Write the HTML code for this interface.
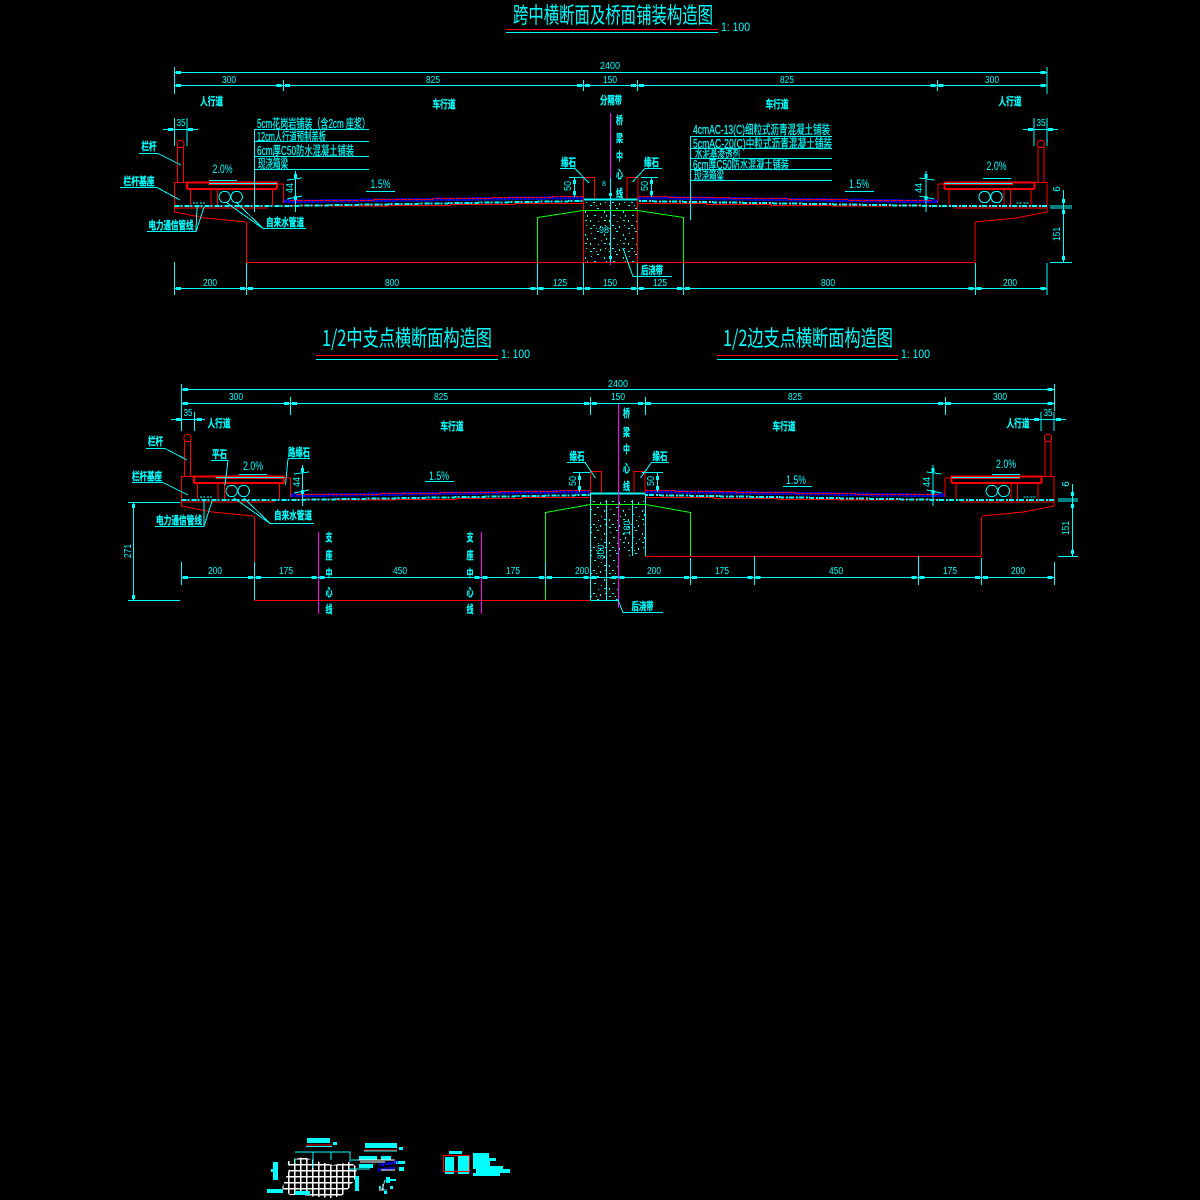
<!DOCTYPE html>
<html><head><meta charset="utf-8">
<style>
html,body{margin:0;padding:0;background:#000}
svg{display:block;shape-rendering:crispEdges}
text{fill:#0ff;font-family:"Liberation Sans","Noto Sans CJK SC",sans-serif}
.c{font-family:"Noto Sans CJK SC","Liberation Sans",sans-serif;font-size:11px;font-weight:700;text-anchor:middle;stroke:#0ff;stroke-width:.25}
.n{font-size:10px;text-anchor:middle}
.l{font-family:"Liberation Sans","Noto Sans CJK SC",sans-serif;font-size:12.5px;stroke:#0ff;stroke-width:.2}
.p1{font-size:12px}
.t{font-family:"Noto Sans CJK SC","Liberation Sans",sans-serif;font-size:22px}
.d{fill:none;stroke:#0ff;stroke-width:1;marker-mid:url(#m)}
.cy{fill:none;stroke:#0ff;stroke-width:1}
.r{fill:none;stroke:#f00;stroke-width:1}
.r2{fill:none;stroke:#f00;stroke-width:2}
.g{fill:none;stroke:#0f0;stroke-width:1}
.p{fill:none;stroke:#f0f;stroke-width:1}
</style></head><body>
<svg width="1200" height="1200" viewBox="0 0 1200 1200" xmlns="http://www.w3.org/2000/svg">
<defs>
<marker id="m" markerUnits="userSpaceOnUse" markerWidth="5" markerHeight="3" refX="2.5" refY="1.5"><rect width="5" height="3" fill="#0ff"/></marker>
<pattern id="st" width="19" height="23" patternUnits="userSpaceOnUse">
<g fill="#0ff"><rect x="2" y="3" width="1" height="1"/><rect x="8" y="1" width="2" height="1"/><rect x="15" y="4" width="1" height="2"/><rect x="5" y="8" width="2" height="1"/><rect x="12" y="10" width="1" height="1"/><rect x="17" y="8" width="1" height="2"/><rect x="1" y="13" width="1" height="2"/><rect x="9" y="14" width="1" height="1"/><rect x="15" y="13" width="2" height="1"/><rect x="4" y="18" width="2" height="1"/><rect x="11" y="19" width="1" height="2"/><rect x="16" y="18" width="1" height="1"/><rect x="7" y="21" width="1" height="1"/><rect x="1" y="21" width="2" height="1"/></g>
</pattern>
<pattern id="gr" width="6" height="6" patternUnits="userSpaceOnUse"><rect width="6" height="6" fill="#000"/><path d="M0 .75H6M.75 0V6" stroke="#fff" stroke-width="1.5"/></pattern>
<g id="half">
<!-- rail -->
<path class="r" d="M177.5 182V147M183.5 182V147"/><circle class="r" cx="180.5" cy="144" r="3.7"/>
<!-- sidewalk -->
<path class="r" d="M174.5 207V182.5H186.5M208 184.5H277.5"/>
<path class="r2" d="M186 182.5H278M187 189H277M187 182V189M277 183V189"/>
<path class="r" d="M190.5 205V189H211V205M217.5 205V189.5H272.5V205"/>
<circle class="cy" cx="224.7" cy="197" r="5.7"/><circle class="cy" cx="236.7" cy="197" r="5.7"/>
<path class="r" d="M277.5 184H283.5V203"/>
<path class="cy" d="M209 183.5H277"/>
<path class="cy" d="M193 203H199M200 203H206" stroke-width="2" stroke-dasharray="2 1"/>
<path class="r" d="M174.5 207V212L205 218L246.5 222"/>
<path class="r" d="M174.5 208H268"/>
<!-- deck -->
<path d="M284 201.5L583 197.5" fill="none" stroke="#00f" stroke-width="3.5" stroke-dasharray="3 1"/>
<path class="r" stroke-dasharray="6 1" d="M290 200.5H373V199.5H433V198.5H492V197.5H553V196.5H583"/>
<path class="r" d="M284 205.5H330V206H390M390 205.5H450V204.5H515V203.5H583"/>
<path d="M174.5 206H284L583 201" fill="none" stroke="#0ff" stroke-width="2" stroke-dasharray="5 1 2 2"/>
<path d="M583 199.5H611" fill="none" stroke="#0ff" stroke-width="2"/>
<!-- 44 dim -->
<path class="cy" d="M295.5 171V212M287 180L302 178M287 199L302 196"/>
<rect x="294" y="174" width="3" height="4" fill="#0ff"/><rect x="294" y="196" width="3" height="4" fill="#0ff"/>
<!-- median curb -->
<path class="r" d="M583.5 199V177.5H594.5V199"/>
</g>
</defs>
<rect width="1200" height="1200" fill="#000"/>

<!-- ===== SECTION 1 ===== -->
<text class="t" x="513" y="23" textLength="200" lengthAdjust="spacingAndGlyphs">跨中横断面及桥面铺装构造图</text>
<path class="r" d="M506 29.5H718"/><path class="cy" d="M506 32.5H718"/>
<text class="p1" x="721" y="31" textLength="29" lengthAdjust="spacingAndGlyphs">1: 100</text>

<polyline class="d" points="174.5,72.5 178.5,72.5 1043,72.5 1047,72.5"/>
<polyline class="d" points="174.5,85.5 178.5,85.5 279,85.5 287.5,85.5 579.5,85.5 587.5,85.5 633.5,85.5 641.5,85.5 933,85.5 941,85.5 1043,85.5 1047,85.5"/>
<path class="cy" d="M174.5 67V94M283.5 80V91M583.5 80V91M637.5 80V91M937.5 80V91M1047 67V94"/>
<text class="n" x="610" y="69" textLength="20" lengthAdjust="spacingAndGlyphs">2400</text>
<text class="n" x="229" y="83" textLength="14" lengthAdjust="spacingAndGlyphs">300</text>
<text class="n" x="433" y="83" textLength="14" lengthAdjust="spacingAndGlyphs">825</text>
<text class="n" x="610" y="83" textLength="14" lengthAdjust="spacingAndGlyphs">150</text>
<text class="n" x="787" y="83" textLength="14" lengthAdjust="spacingAndGlyphs">825</text>
<text class="n" x="992" y="83" textLength="14" lengthAdjust="spacingAndGlyphs">300</text>
<text class="c" x="211.5" y="105" textLength="23" lengthAdjust="spacingAndGlyphs">人行道</text><text class="c" x="444" y="108" textLength="23" lengthAdjust="spacingAndGlyphs">车行道</text><text class="c" x="611" y="104" textLength="22" lengthAdjust="spacingAndGlyphs">分隔带</text><text class="c" x="777" y="108" textLength="23" lengthAdjust="spacingAndGlyphs">车行道</text><text class="c" x="1010" y="105" textLength="23" lengthAdjust="spacingAndGlyphs">人行道</text>

<!-- stipple -->
<rect x="584" y="200" width="53" height="62" fill="url(#st)"/>
<use href="#half"/>
<use href="#half" transform="translate(1221.3,0) scale(-1,1)"/>
<path class="r" d="M246.5 222V262.5H975V222"/>
<path class="r" d="M583.5 199V262M637.5 199V262"/>
<path class="g" d="M537.5 262V217.5L583 210.5H637.5L683.5 217.5V262"/>
<path class="p" d="M610.5 113V265"/>
<path class="cy" d="M610.5 178V262"/>
<rect x="609" y="193" width="3" height="3" fill="#0ff"/><rect x="609" y="256" width="3" height="3" fill="#0ff"/>
<g>
<text class="c" x="619.5" y="124" textLength="7" lengthAdjust="spacingAndGlyphs">桥</text><text class="c" x="619.5" y="142" textLength="7" lengthAdjust="spacingAndGlyphs">梁</text><text class="c" x="619.5" y="160" textLength="7" lengthAdjust="spacingAndGlyphs">中</text><text class="c" x="619.5" y="178" textLength="7" lengthAdjust="spacingAndGlyphs">心</text><text class="c" x="619.5" y="197" textLength="7" lengthAdjust="spacingAndGlyphs">线</text>
</g>
<text class="n" x="604" y="186" style="font-size:7px">8</text>
<text class="n" x="604" y="233" style="font-size:9px">98</text>
<!-- curb dims -->
<path class="cy" d="M569 177.5H583M574.5 178V197M641 177.5H658M651.5 178V197"/>
<rect x="573" y="180" width="3" height="4" fill="#0ff"/><rect x="573" y="191" width="3" height="4" fill="#0ff"/>
<rect x="650" y="180" width="3" height="4" fill="#0ff"/><rect x="650" y="191" width="3" height="4" fill="#0ff"/>
<text class="n" transform="translate(571,186) rotate(-90)" textLength="10" lengthAdjust="spacingAndGlyphs">50</text>
<text class="n" transform="translate(648,186) rotate(-90)" textLength="10" lengthAdjust="spacingAndGlyphs">50</text>
<text class="c" x="568.5" y="166" textLength="15" lengthAdjust="spacingAndGlyphs">缘石</text><text class="c" x="651.5" y="166" textLength="15" lengthAdjust="spacingAndGlyphs">缘石</text>
<path class="cy" d="M560 168.5H575L589 183M662 168.5H645L632.5 182"/>

<!-- left labels -->
<text class="c" x="149" y="150" textLength="15" lengthAdjust="spacingAndGlyphs">栏杆</text><path class="cy" d="M139 153.5H158L181 165"/>
<text class="c" x="139" y="185" textLength="31" lengthAdjust="spacingAndGlyphs">栏杆基座</text><path class="cy" d="M120 187.5H157L180 200"/>
<text class="c" x="171" y="229" textLength="45" lengthAdjust="spacingAndGlyphs">电力通信管线</text><path class="cy" d="M147 231.5H196L204 207M196 231.5L197 207"/>
<text class="c" x="285" y="226" textLength="38" lengthAdjust="spacingAndGlyphs">自来水管道</text><path class="cy" d="M263 228.5H306M263 228.5L237 203M263 228.5L227 203"/>
<!-- 35 dims -->
<path class="cy" d="M163 129.5H198M174.5 118V146M187 118V146"/><rect x="168" y="128" width="5" height="3" fill="#0ff"/><rect x="188" y="128" width="5" height="3" fill="#0ff"/>
<text class="n" x="181" y="126" textLength="9" lengthAdjust="spacingAndGlyphs">35</text>
<path class="cy" d="M1023 129.5H1058M1034 118V146M1047 118V146"/><rect x="1028" y="128" width="5" height="3" fill="#0ff"/><rect x="1048" y="128" width="5" height="3" fill="#0ff"/>
<text class="n" x="1041" y="126" textLength="9" lengthAdjust="spacingAndGlyphs">35</text>
<!-- slope -->
<text class="p1" x="212.5" y="173" textLength="20" lengthAdjust="spacingAndGlyphs">2.0%</text><path class="cy" d="M209 180.5H237"/>
<text class="p1" x="370.5" y="188" textLength="20" lengthAdjust="spacingAndGlyphs">1.5%</text><path class="cy" d="M366 191.5H395"/>
<text class="p1" x="849" y="188" textLength="20" lengthAdjust="spacingAndGlyphs">1.5%</text><path class="cy" d="M845 191.5H874"/>
<text class="p1" x="986.5" y="170" textLength="20" lengthAdjust="spacingAndGlyphs">2.0%</text><path class="cy" d="M983 178.5H1011"/>
<text class="n" transform="translate(293,188) rotate(-90)" textLength="10" lengthAdjust="spacingAndGlyphs">44</text>
<text class="n" transform="translate(922,188) rotate(-90)" textLength="10" lengthAdjust="spacingAndGlyphs">44</text>
<!-- layer callouts -->
<path class="cy" d="M254.5 129.5H369M254.5 141.5H369M254.5 156.5H369M254.5 169.5H369M254.5 129.5V212"/>
<text class="l" x="257" y="128" textLength="113" lengthAdjust="spacingAndGlyphs">5cm花岗岩铺装（含2cm 座浆）</text>
<text class="l" x="257" y="141" textLength="69" lengthAdjust="spacingAndGlyphs">12cm人行道预制盖板</text>
<text class="l" x="257" y="155" textLength="97" lengthAdjust="spacingAndGlyphs">6cm厚C50防水混凝土铺装</text>
<text class="l" x="258" y="168" textLength="30" lengthAdjust="spacingAndGlyphs">现浇箱梁</text>
<path class="cy" d="M690.5 136.5H832M690.5 148.5H832M690.5 158.5H832M690.5 169.5H832M690.5 180.5H832M690.5 136.5V220"/>
<text class="l" x="693" y="134" textLength="137" lengthAdjust="spacingAndGlyphs">4cmAC-13(C)细粒式沥青混凝土铺装</text>
<text class="l" x="693" y="148" textLength="139" lengthAdjust="spacingAndGlyphs">5cmAC-20(C)中粒式沥青混凝土铺装</text>
<text class="l" x="695" y="158" textLength="45" lengthAdjust="spacingAndGlyphs">水泥基渗透剂</text>
<text class="l" x="693" y="169" textLength="96" lengthAdjust="spacingAndGlyphs">6cm厚C50防水混凝土铺装</text>
<text class="l" x="694" y="180" textLength="30" lengthAdjust="spacingAndGlyphs">现浇箱梁</text>
<!-- bottom dims -->
<polyline class="d" points="174.5,288.5 178.5,288.5 242.5,288.5 250.5,288.5 533,288.5 541,288.5 579.5,288.5 587.5,288.5 633.5,288.5 641.5,288.5 679.5,288.5 687.5,288.5 971,288.5 979,288.5 1043,288.5 1047,288.5"/>
<path class="cy" d="M174.5 262V295M246.5 263V295M537.5 263V295M583.5 263V295M637.5 263V295M683.5 263V295M975.5 263V295M1047 263V295"/>
<text class="n" x="210" y="286" textLength="14" lengthAdjust="spacingAndGlyphs">200</text>
<text class="n" x="392" y="286" textLength="14" lengthAdjust="spacingAndGlyphs">800</text>
<text class="n" x="560" y="286" textLength="14" lengthAdjust="spacingAndGlyphs">125</text>
<text class="n" x="610" y="286" textLength="14" lengthAdjust="spacingAndGlyphs">150</text>
<text class="n" x="660" y="286" textLength="14" lengthAdjust="spacingAndGlyphs">125</text>
<text class="n" x="828" y="286" textLength="14" lengthAdjust="spacingAndGlyphs">800</text>
<text class="n" x="1010" y="286" textLength="14" lengthAdjust="spacingAndGlyphs">200</text>
<text class="c" x="652" y="274" textLength="22" lengthAdjust="spacingAndGlyphs">后浇带</text>
<path class="cy" d="M623 248L633 276.5H672"/>
<!-- right dim -->
<path class="cy" d="M1063.5 190V262M1050 206H1072M1050 208H1072M1050 262.5H1072"/>
<rect x="1062" y="199" width="3" height="4" fill="#0ff"/><rect x="1062" y="210" width="3" height="4" fill="#0ff"/><rect x="1062" y="256" width="3" height="4" fill="#0ff"/>
<text class="n" transform="translate(1060,189) rotate(-90)">6</text>
<text class="n" transform="translate(1060,234) rotate(-90)" textLength="14" lengthAdjust="spacingAndGlyphs">151</text>

<!-- ===== SECTION 2 ===== -->
<text class="t" x="322" y="346" textLength="170" lengthAdjust="spacingAndGlyphs">1/2中支点横断面构造图</text>
<path class="r" d="M316 355.5H498"/><path class="cy" d="M316 359.5H498"/>
<text class="p1" x="501" y="358" textLength="29" lengthAdjust="spacingAndGlyphs">1: 100</text>
<text class="t" x="723" y="346" textLength="170" lengthAdjust="spacingAndGlyphs">1/2边支点横断面构造图</text>
<path class="r" d="M717 355.5H898"/><path class="cy" d="M717 359.5H898"/>
<text class="p1" x="901" y="358" textLength="29" lengthAdjust="spacingAndGlyphs">1: 100</text>

<polyline class="d" points="181.5,389.5 185.5,389.5 1050,389.5 1054,389.5"/>
<polyline class="d" points="181.5,403.5 185.5,403.5 286.5,403.5 294.5,403.5 586.5,403.5 594.5,403.5 640.5,403.5 648.5,403.5 940.5,403.5 948.5,403.5 1050,403.5 1054,403.5"/>
<path class="cy" d="M181.5 384V430M290.5 397V415M590.5 397V415M645.5 397V415M945.5 397V415M1054.5 384V411"/>
<text class="n" x="618" y="387" textLength="20" lengthAdjust="spacingAndGlyphs">2400</text>
<text class="n" x="236" y="400" textLength="14" lengthAdjust="spacingAndGlyphs">300</text>
<text class="n" x="441" y="400" textLength="14" lengthAdjust="spacingAndGlyphs">825</text>
<text class="n" x="618" y="400" textLength="14" lengthAdjust="spacingAndGlyphs">150</text>
<text class="n" x="795" y="400" textLength="14" lengthAdjust="spacingAndGlyphs">825</text>
<text class="n" x="1000" y="400" textLength="14" lengthAdjust="spacingAndGlyphs">300</text>
<text class="c" x="219" y="427" textLength="23" lengthAdjust="spacingAndGlyphs">人行道</text><text class="c" x="452" y="430" textLength="23" lengthAdjust="spacingAndGlyphs">车行道</text><text class="c" x="784" y="430" textLength="23" lengthAdjust="spacingAndGlyphs">车行道</text><text class="c" x="1018" y="427" textLength="23" lengthAdjust="spacingAndGlyphs">人行道</text>

<rect x="591" y="500" width="27" height="100" fill="url(#st)"/>
<rect x="618" y="500" width="27" height="56" fill="url(#st)"/>
<use href="#half" transform="translate(7,294)"/>
<use href="#half" transform="translate(1228.5,294) scale(-1,1)"/>
<path class="cy" d="M590.5 494V600M645.5 494V556M618.5 494V600M606.5 500V600M632.5 500V556"/>
<path class="r" d="M254.5 516V562"/>
<path class="cy" d="M254.5 562V600M590.5 600.5H618"/>
<path class="r" d="M254.5 600.5H590"/>
<path class="r" d="M645.5 556.5H981.5V517"/>
<path class="g" d="M545.5 600V512.5L590.5 504.5H645.5L690.5 512.5V556"/>
<path class="p" d="M618.5 404V608M318.5 532V614M481.5 532V614"/>
<g>
<text class="c" x="626.5" y="417" textLength="7" lengthAdjust="spacingAndGlyphs">桥</text><text class="c" x="626.5" y="436" textLength="7" lengthAdjust="spacingAndGlyphs">梁</text><text class="c" x="626.5" y="453" textLength="7" lengthAdjust="spacingAndGlyphs">中</text><text class="c" x="626.5" y="472" textLength="7" lengthAdjust="spacingAndGlyphs">心</text><text class="c" x="626.5" y="490" textLength="7" lengthAdjust="spacingAndGlyphs">线</text>
<text class="c" x="329" y="541" textLength="7" lengthAdjust="spacingAndGlyphs">支</text><text class="c" x="329" y="559" textLength="7" lengthAdjust="spacingAndGlyphs">座</text><text class="c" x="329" y="577" textLength="7" lengthAdjust="spacingAndGlyphs">中</text><text class="c" x="329" y="596" textLength="7" lengthAdjust="spacingAndGlyphs">心</text><text class="c" x="329" y="613" textLength="7" lengthAdjust="spacingAndGlyphs">线</text>
<text class="c" x="470" y="541" textLength="7" lengthAdjust="spacingAndGlyphs">支</text><text class="c" x="470" y="559" textLength="7" lengthAdjust="spacingAndGlyphs">座</text><text class="c" x="470" y="577" textLength="7" lengthAdjust="spacingAndGlyphs">中</text><text class="c" x="470" y="596" textLength="7" lengthAdjust="spacingAndGlyphs">心</text><text class="c" x="470" y="613" textLength="7" lengthAdjust="spacingAndGlyphs">线</text>
</g>
<text class="n" transform="translate(604,552) rotate(-90)" style="font-size:9px">300</text>
<text class="n" transform="translate(630,528) rotate(-90)" style="font-size:9px">180</text>
<path class="cy" d="M573 472.5H590M579.5 473V492M642 472.5H663M657.5 473V492"/>
<rect x="578" y="476" width="3" height="4" fill="#0ff"/><rect x="578" y="486" width="3" height="4" fill="#0ff"/>
<rect x="656" y="476" width="3" height="4" fill="#0ff"/><rect x="656" y="486" width="3" height="4" fill="#0ff"/>
<text class="n" transform="translate(576,481) rotate(-90)" textLength="10" lengthAdjust="spacingAndGlyphs">50</text>
<text class="n" transform="translate(654,481) rotate(-90)" textLength="10" lengthAdjust="spacingAndGlyphs">50</text>
<text class="c" x="577" y="460" textLength="15" lengthAdjust="spacingAndGlyphs">缘石</text><text class="c" x="660" y="460" textLength="15" lengthAdjust="spacingAndGlyphs">缘石</text>
<path class="cy" d="M567 462.5H585L595.5 478M669 462.5H651.5L640.5 478"/>
<text class="c" x="155.5" y="445" textLength="15" lengthAdjust="spacingAndGlyphs">栏杆</text><path class="cy" d="M146 448.5H165L187 460"/>
<text class="c" x="147" y="480" textLength="30" lengthAdjust="spacingAndGlyphs">栏杆基座</text><path class="cy" d="M132 482.5H163L188 495"/>
<text class="c" x="219.5" y="458" textLength="15" lengthAdjust="spacingAndGlyphs">平石</text><path class="cy" d="M211 460.5H228L225 485"/>
<text class="c" x="299" y="456" textLength="22" lengthAdjust="spacingAndGlyphs">路缘石</text><path class="cy" d="M288 458.5H310M288 458.5L285.5 485"/>
<text class="c" x="179" y="524" textLength="46" lengthAdjust="spacingAndGlyphs">电力通信管线</text><path class="cy" d="M155 526.5H204L212 501M204 526.5L204 501"/>
<text class="c" x="293" y="519" textLength="38" lengthAdjust="spacingAndGlyphs">自来水管道</text><path class="cy" d="M270 523.5H314M270 523.5L244 498M270 523.5L234 498"/>
<path class="cy" d="M171 419.5H205M181.5 412V431M194.5 412V431"/><rect x="176" y="418" width="5" height="3" fill="#0ff"/><rect x="197" y="418" width="5" height="3" fill="#0ff"/>
<text class="n" x="188" y="416" textLength="9" lengthAdjust="spacingAndGlyphs">35</text>
<path class="cy" d="M1030 419.5H1066M1041 412V431M1054 412V431"/><rect x="1034" y="418" width="5" height="3" fill="#0ff"/><rect x="1056" y="418" width="5" height="3" fill="#0ff"/>
<text class="n" x="1048" y="416" textLength="9" lengthAdjust="spacingAndGlyphs">35</text>
<text class="p1" x="243" y="470" textLength="20" lengthAdjust="spacingAndGlyphs">2.0%</text><path class="cy" d="M239 474.5H267"/>
<text class="p1" x="429" y="480" textLength="20" lengthAdjust="spacingAndGlyphs">1.5%</text><path class="cy" d="M425 481.5H454"/>
<text class="p1" x="786" y="484" textLength="20" lengthAdjust="spacingAndGlyphs">1.5%</text><path class="cy" d="M783 486.5H812"/>
<text class="p1" x="996" y="468" textLength="20" lengthAdjust="spacingAndGlyphs">2.0%</text><path class="cy" d="M992 474.5H1020"/>
<text class="n" transform="translate(300,482) rotate(-90)" textLength="10" lengthAdjust="spacingAndGlyphs">44</text>
<text class="n" transform="translate(930,482) rotate(-90)" textLength="10" lengthAdjust="spacingAndGlyphs">44</text>

<polyline class="d" points="181.5,577.5 185.5,577.5 250.5,577.5 258.5,577.5 314,577.5 322,577.5 477,577.5 485,577.5 541.5,577.5 549.5,577.5 586,577.5 594,577.5 614,577.5 622,577.5 686.5,577.5 694.5,577.5 750,577.5 758,577.5 914,577.5 922,577.5 977.5,577.5 985.5,577.5 1050,577.5 1054,577.5"/>
<path class="cy" d="M181.5 562V585M254.5 562V585M545.5 562V585M690.5 558V585M754.5 556V585M918.5 556V585M981.5 558V585M1054.5 562V585"/>
<text class="n" x="215" y="574" textLength="14" lengthAdjust="spacingAndGlyphs">200</text>
<text class="n" x="286" y="574" textLength="14" lengthAdjust="spacingAndGlyphs">175</text>
<text class="n" x="400" y="574" textLength="14" lengthAdjust="spacingAndGlyphs">450</text>
<text class="n" x="513" y="574" textLength="14" lengthAdjust="spacingAndGlyphs">175</text>
<text class="n" x="582" y="574" textLength="14" lengthAdjust="spacingAndGlyphs">200</text>
<text class="n" x="654" y="574" textLength="14" lengthAdjust="spacingAndGlyphs">200</text>
<text class="n" x="722" y="574" textLength="14" lengthAdjust="spacingAndGlyphs">175</text>
<text class="n" x="836" y="574" textLength="14" lengthAdjust="spacingAndGlyphs">450</text>
<text class="n" x="950" y="574" textLength="14" lengthAdjust="spacingAndGlyphs">175</text>
<text class="n" x="1018" y="574" textLength="14" lengthAdjust="spacingAndGlyphs">200</text>
<text class="c" x="642.5" y="610" textLength="22" lengthAdjust="spacingAndGlyphs">后浇带</text>
<path class="cy" d="M618 600L623 612.5H663"/>
<!-- 271 -->
<path class="cy" d="M133.5 502V600M128 502.5H180M128 600.5H180"/>
<rect x="132" y="504" width="3" height="4" fill="#0ff"/><rect x="132" y="595" width="3" height="4" fill="#0ff"/>
<text class="n" transform="translate(131,551) rotate(-90)" textLength="14" lengthAdjust="spacingAndGlyphs">271</text>
<!-- right dim 2 -->
<path class="cy" d="M1072.5 484V556M1058 499H1078M1058 501H1078M1058 556.5H1078"/>
<rect x="1071" y="492" width="3" height="4" fill="#0ff"/><rect x="1071" y="504" width="3" height="4" fill="#0ff"/><rect x="1071" y="550" width="3" height="4" fill="#0ff"/>
<text class="n" transform="translate(1069,484) rotate(-90)">6</text>
<text class="n" transform="translate(1069,528) rotate(-90)" textLength="14" lengthAdjust="spacingAndGlyphs">151</text>

<!-- ===== MINI DRAWING ===== -->
<path d="M285 1162L303 1157L320 1162L333 1165L350 1162L357 1167L356 1177L350 1187L343 1195L333 1198L317 1197L303 1195L290 1195L282 1188L285 1180L290 1167Z" fill="url(#gr)"/>
<g fill="#0ff">
<rect x="307" y="1138" width="23" height="5"/><rect x="333" y="1142" width="4" height="3"/>
<rect x="365" y="1143" width="32" height="5"/><rect x="399" y="1147" width="4" height="3"/>
<rect x="273" y="1162" width="5" height="18"/><rect x="271" y="1169" width="3" height="3"/>
<rect x="355" y="1176" width="4" height="15"/>
<rect x="267" y="1189" width="16" height="4"/><rect x="295" y="1191" width="15" height="4"/>
<rect x="359" y="1156" width="18" height="4"/><rect x="381" y="1156" width="10" height="4"/>
<rect x="359" y="1164" width="14" height="4"/><rect x="395" y="1161" width="10" height="3"/><rect x="399" y="1167" width="5" height="4"/>
<rect x="386" y="1177" width="4" height="6"/><rect x="390" y="1179" width="6" height="2"/>
<rect x="379" y="1186" width="2" height="3"/><rect x="390" y="1186" width="3" height="3"/><rect x="384" y="1191" width="3" height="3"/>
<rect x="449" y="1151" width="13" height="3"/><rect x="445" y="1157" width="9" height="17"/><rect x="458" y="1156" width="11" height="18"/>
<rect x="473" y="1153" width="16" height="5"/><rect x="473" y="1158" width="23" height="3"/><rect x="473" y="1161" width="17" height="6"/><rect x="473" y="1166" width="30" height="3"/><rect x="476" y="1169" width="34" height="4"/><rect x="473" y="1173" width="27" height="3"/>
</g>
<path class="cy" d="M295 1158V1163M295 1152H350V1162M313 1152V1168M331 1152V1160"/>
<path class="r" d="M306 1145H332M364 1150H397M443.5 1155.5H469.5V1171.5H443.5Z"/>
<path class="cy" d="M306 1146.5H332M364 1151H397"/>
<path d="M379 1165L398 1162M378 1170L396 1168" stroke="#00f" stroke-width="3" fill="none" stroke-dasharray="2 1"/>
<path d="M358 1160H395M381 1170H395" stroke="#fff" stroke-width="1" fill="none"/>
<path class="cy" d="M385 1180L382 1190H387M351 1160H358M349 1169H370"/>
<path d="M360 1162H385M383 1184V1190H379" stroke="#fff" fill="none"/>
</svg>
</body></html>
